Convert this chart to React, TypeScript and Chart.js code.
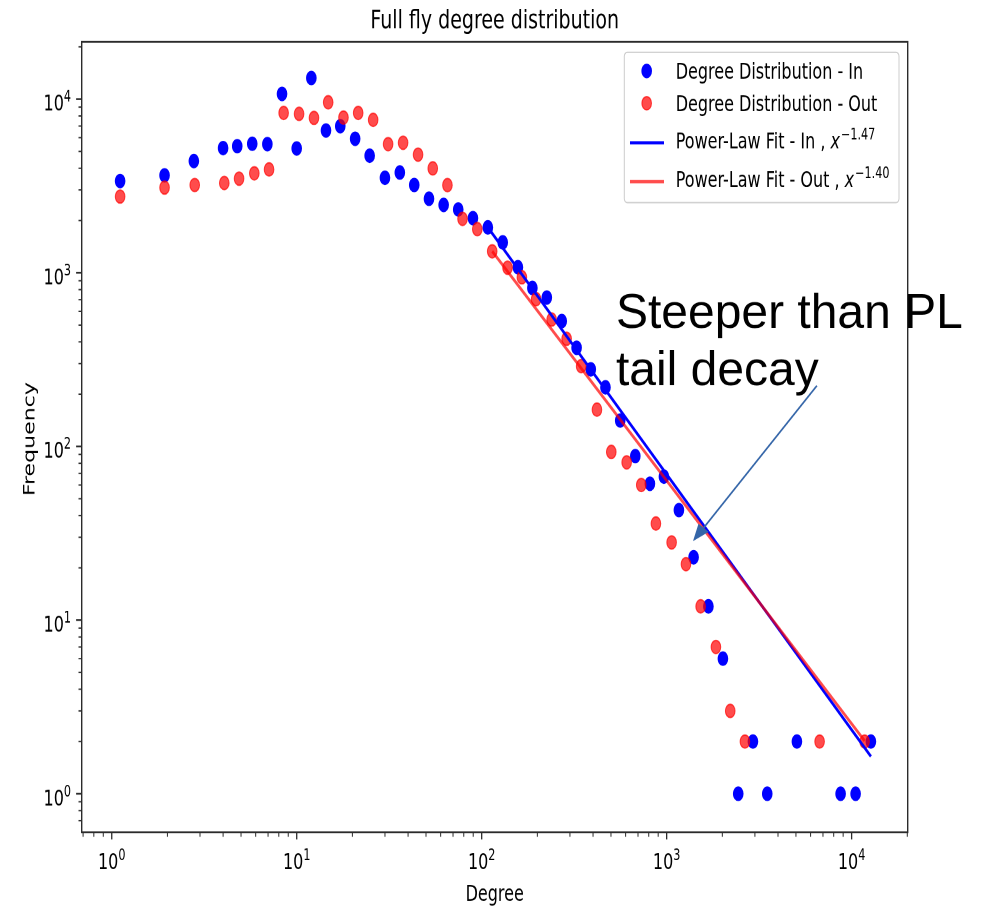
import React, { useEffect, useRef } from "react";
import { Chart, registerables } from "chart.js";

Chart.register(...registerables);

// ---------- data ----------
const TITLE = "Full fly degree distribution";
const X_LABEL = "Degree";
const Y_LABEL = "Frequency";

const degreeIn = [
  1.11, 1.93, 2.78, 4.0, 4.77, 5.75, 6.94, 8.33, 10.0, 12.0, 14.4, 17.2, 20.7, 24.8, 30.0,
  36.1, 43.2, 51.9, 62.3, 74.7, 89.7, 108, 130, 157, 188, 225, 271, 326, 389, 467, 561,
  677, 812, 967, 1165, 1399, 1682, 2015, 2438, 2928, 3499, 5062, 8721, 10510, 12716,
];
const freqIn = [
  3375, 3640, 4397, 5223, 5358, 5534, 5504, 10715, 5200, 13230, 6596, 6982, 5910, 4723, 3523,
  3778, 3203, 2669, 2459, 2314, 2063, 1826, 1496, 1076, 818, 720, 527, 370, 278, 219, 141,
  88, 61, 67, 43, 23, 12, 6, 1, 2, 1, 2, 1, 1, 2,
];

const degreeOut = [
  1.11, 1.93, 2.81, 4.06, 4.88, 5.9, 7.09, 8.5, 10.3, 12.4, 14.8, 17.9, 21.5, 25.9, 31.2,
  37.6, 45.3, 54.4, 65.3, 78.8, 94.7, 114, 138, 165, 197, 239, 288, 345, 420, 502, 608,
  729, 875, 1064, 1272, 1527, 1847, 2207, 2650, 6714, 11757,
];
const freqOut = [
  2748, 3094, 3203, 3288, 3484, 3738, 3939, 8332, 8226, 7800, 9585, 7831, 8332, 7597, 5504,
  5607, 4786, 3993, 3198, 2044, 1784, 1330, 1070, 942, 705, 538, 417, 290, 163, 93, 81,
  60, 36, 28, 21, 12, 7, 3, 2, 2, 2,
];

// power-law fit segments (end points)
const fitInDegree = [108, 12716];
const fitInFreq = [1826, 1.64];
const fitOutDegree = [114, 11757];
const fitOutFreq = [1330, 2.02];
const fitInExponent = "\u22121.47";
const fitOutExponent = "\u22121.40";

const legendLabels = [
  "Degree Distribution - In",
  "Degree Distribution - Out",
  "Power-Law Fit - In , ",
  "Power-Law Fit - Out , ",
];

const tickMultipliers = [1, 2, 3, 4, 5, 6, 7, 8, 9];

const X_MIN = 0.688;
const X_MAX = 20100;
const Y_MIN = 0.625;
const Y_MAX = 21410;

const annotationLines = ["Steeper than PL", "tail decay"];
const annotationAnchor = { x: 532, y: 480 };
const arrowFrom = { x: 6490, y: 224 };
const arrowTo = { x: 1388, y: 28.5 };

// ---------- styling ----------
const W = 983;
const H_FINAL = 907;
const H = 657;
const K = H_FINAL / H; // vertical stretch of the reference picture
const FONT = '"DejaVu Sans", "Noto Sans", sans-serif';
const BLUE = "#0000ff";
const RED = "rgba(255,0,0,0.7)";
const AXIS = "#2b2b2b";

function buildTicks(min: number, max: number) {
  const out: { v: number; major: boolean; e: number }[] = [];
  const e0 = Math.floor(Math.log10(min));
  const e1 = Math.ceil(Math.log10(max));
  for (let e = e0; e <= e1; e++) {
    for (const m of tickMultipliers) {
      const v = m * Math.pow(10, e);
      if (v >= min * 0.9999 && v <= max * 1.0001) out.push({ v, major: m === 1, e });
    }
  }
  return out;
}

function drawPower(ctx: CanvasRenderingContext2D, exp: number, x: number, baseline: number, align: "center" | "right") {
  const base = "10";
  const sup = String(exp);
  ctx.font = `16px ${FONT}`;
  const wb = ctx.measureText(base).width;
  ctx.font = `11.2px ${FONT}`;
  const ws = ctx.measureText(sup).width;
  const total = wb + ws;
  const left = align === "center" ? x - total / 2 : x - total;
  ctx.textAlign = "left";
  ctx.textBaseline = "alphabetic";
  ctx.font = `16px ${FONT}`;
  ctx.fillText(base, left, baseline);
  ctx.font = `11.2px ${FONT}`;
  ctx.fillText(sup, left + wb, baseline - 6.5);
}

function roundRectPath(ctx: CanvasRenderingContext2D, x: number, y: number, w: number, h: number, r: number) {
  ctx.beginPath();
  ctx.moveTo(x + r, y);
  ctx.lineTo(x + w - r, y);
  ctx.arcTo(x + w, y, x + w, y + r, r);
  ctx.lineTo(x + w, y + h - r);
  ctx.arcTo(x + w, y + h, x + w - r, y + h, r);
  ctx.lineTo(x + r, y + h);
  ctx.arcTo(x, y + h, x, y + h - r, r);
  ctx.lineTo(x, y + r);
  ctx.arcTo(x, y, x + r, y, r);
  ctx.closePath();
}

const decorPlugin = {
  id: "decor",
  afterDraw(chart: any) {
    const ctx: CanvasRenderingContext2D = chart.ctx;
    const ca = chart.chartArea;
    const xs = chart.scales.x;
    const ys = chart.scales.y;
    ctx.save();

    // frame
    ctx.strokeStyle = AXIS;
    ctx.lineWidth = 1.4;
    ctx.strokeRect(ca.left, ca.top, ca.right - ca.left, ca.bottom - ca.top);

    // ticks
    ctx.fillStyle = "#000";
    for (const t of buildTicks(X_MIN, X_MAX)) {
      const px = xs.getPixelForValue(t.v);
      ctx.lineWidth = t.major ? 1.3 : 1;
      ctx.beginPath();
      ctx.moveTo(px, ca.bottom);
      ctx.lineTo(px, ca.bottom + (t.major ? 5.2 : 3.2));
      ctx.stroke();
      if (t.major) drawPower(ctx, t.e, px, ca.bottom + 26.8, "center");
    }
    for (const t of buildTicks(Y_MIN, Y_MAX)) {
      const py = ys.getPixelForValue(t.v);
      ctx.lineWidth = t.major ? 1.3 : 1;
      ctx.beginPath();
      ctx.moveTo(ca.left, py);
      ctx.lineTo(ca.left - (t.major ? 5.6 : 3.2), py);
      ctx.stroke();
      if (t.major) drawPower(ctx, t.e, ca.left - 10.7, py + 8.3, "right");
    }

    // axis labels and title
    const cx = (ca.left + ca.right) / 2;
    const cy = (ca.top + ca.bottom) / 2;
    ctx.fillStyle = "#000";
    ctx.textAlign = "center";
    ctx.textBaseline = "alphabetic";
    ctx.font = `16px ${FONT}`;
    ctx.fillText(X_LABEL, cx, ca.bottom + 49.5);
    ctx.save();
    ctx.translate(ca.left - 47.4, cy + 1.5);
    ctx.rotate(-Math.PI / 2);
    ctx.fillText(Y_LABEL, 0, 0);
    ctx.restore();
    ctx.font = `19px ${FONT}`;
    ctx.fillText(TITLE, cx, ca.top - 9.7);

    // legend
    const lw = 274.7;
    const lh = 108.9;
    const lx = ca.right - 8.7 - lw;
    const ly = ca.top + 7.7;
    roundRectPath(ctx, lx, ly, lw, lh, 3);
    ctx.fillStyle = "rgba(255,255,255,0.8)";
    ctx.fill();
    ctx.strokeStyle = "#cccccc";
    ctx.lineWidth = 1;
    ctx.stroke();

    const rowCenters = [13.5, 36.9, 65.5, 93.7];
    const rowBaselines = [19.3, 42.6, 69.5, 97.8];
    const textX = lx + 51.4;
    // markers
    const markerColors = [BLUE, RED];
    for (let i = 0; i < 2; i++) {
      ctx.beginPath();
      ctx.arc(lx + 22.4, ly + rowCenters[i], 4.8, 0, Math.PI * 2);
      ctx.fillStyle = markerColors[i];
      ctx.strokeStyle = markerColors[i];
      ctx.lineWidth = 1;
      ctx.fill();
      ctx.stroke();
    }
    // lines
    const lineColors = [BLUE, RED];
    for (let i = 0; i < 2; i++) {
      ctx.beginPath();
      ctx.moveTo(lx + 5.7, ly + rowCenters[i + 2]);
      ctx.lineTo(lx + 39.7, ly + rowCenters[i + 2]);
      ctx.strokeStyle = lineColors[i];
      ctx.lineWidth = 2.4;
      ctx.stroke();
    }
    ctx.fillStyle = "#000";
    ctx.textAlign = "left";
    ctx.font = `16px ${FONT}`;
    ctx.fillText(legendLabels[0], textX, ly + rowBaselines[0]);
    ctx.fillText(legendLabels[1], textX, ly + rowBaselines[1]);
    const exps = [fitInExponent, fitOutExponent];
    for (let i = 0; i < 2; i++) {
      const by = ly + rowBaselines[i + 2];
      ctx.font = `16px ${FONT}`;
      const label = legendLabels[i + 2];
      ctx.fillText(label, textX, by);
      const w1 = ctx.measureText(label).width;
      ctx.font = `italic 16px ${FONT}`;
      ctx.fillText("x", textX + w1, by);
      const w2 = ctx.measureText("x").width;
      ctx.font = `11.2px ${FONT}`;
      ctx.fillText(exps[i], textX + w1 + w2 + 1, by - 6.5);
    }

    // annotation (drawn un-stretched, in final pixel space)
    ctx.save();
    ctx.scale(1, 1 / K);
    const ax = xs.getPixelForValue(annotationAnchor.x);
    const ay = ys.getPixelForValue(annotationAnchor.y) * K;
    ctx.fillStyle = "#000";
    ctx.font = '48px "Liberation Sans", Arial, sans-serif';
    ctx.textAlign = "left";
    ctx.textBaseline = "alphabetic";
    annotationLines.forEach((line, i) => ctx.fillText(line, ax, ay + i * 57));

    const x1 = xs.getPixelForValue(arrowFrom.x);
    const y1 = ys.getPixelForValue(arrowFrom.y) * K;
    const x2 = xs.getPixelForValue(arrowTo.x);
    const y2 = ys.getPixelForValue(arrowTo.y) * K;
    const ang = Math.atan2(y2 - y1, x2 - x1);
    const headLen = 17;
    const headHalf = 6.5;
    const bx = x2 - headLen * Math.cos(ang);
    const by = y2 - headLen * Math.sin(ang);
    ctx.strokeStyle = "#3465a8";
    ctx.fillStyle = "#3465a8";
    ctx.lineWidth = 1.7;
    ctx.beginPath();
    ctx.moveTo(x1, y1);
    ctx.lineTo(bx, by);
    ctx.stroke();
    ctx.beginPath();
    ctx.moveTo(x2, y2);
    ctx.lineTo(bx + headHalf * Math.sin(ang), by - headHalf * Math.cos(ang));
    ctx.lineTo(bx - headHalf * Math.sin(ang), by + headHalf * Math.cos(ang));
    ctx.closePath();
    ctx.fill();
    ctx.restore();

    ctx.restore();
  },
};

function toPoints(xs: number[], ys: number[]) {
  return xs.map((x, i) => ({ x, y: ys[i] }));
}

export default function App() {
  const canvasRef = useRef<HTMLCanvasElement | null>(null);

  useEffect(() => {
    const canvas = canvasRef.current;
    if (!canvas) return;
    const chart = new Chart(canvas, {
      type: "scatter",
      data: {
        datasets: [
          {
            label: legendLabels[0],
            data: toPoints(degreeIn, freqIn),
            backgroundColor: BLUE,
            borderColor: BLUE,
            borderWidth: 1,
            pointRadius: 4.8,
            showLine: false,
            order: 3,
          },
          {
            label: legendLabels[1],
            data: toPoints(degreeOut, freqOut),
            backgroundColor: RED,
            borderColor: RED,
            borderWidth: 1,
            pointRadius: 4.8,
            showLine: false,
            order: 2,
          },
          {
            label: legendLabels[2],
            data: toPoints(fitInDegree, fitInFreq),
            borderColor: BLUE,
            backgroundColor: BLUE,
            borderWidth: 2.4,
            pointRadius: 0,
            showLine: true,
            order: 1,
          },
          {
            label: legendLabels[3],
            data: toPoints(fitOutDegree, fitOutFreq),
            borderColor: RED,
            backgroundColor: RED,
            borderWidth: 2.4,
            pointRadius: 0,
            showLine: true,
            order: 0,
          },
        ],
      },
      options: {
        animation: false,
        responsive: false,
        devicePixelRatio: 2,
        layout: {
          padding: { left: 81.7, right: W - 907.7, top: 41.7 / K, bottom: H - 832.3 / K },
        },
        scales: {
          x: { type: "logarithmic", min: X_MIN, max: X_MAX, display: false },
          y: { type: "logarithmic", min: Y_MIN, max: Y_MAX, display: false },
        },
        plugins: {
          legend: { display: false },
          title: { display: false },
          tooltip: { enabled: false },
        },
        events: [],
      },
      plugins: [decorPlugin],
    } as any);
    return () => chart.destroy();
  }, []);

  return (
    <div
      style={{
        position: "fixed",
        left: 0,
        top: 0,
        width: W,
        height: H_FINAL,
        overflow: "hidden",
        background: "#fff",
      }}
    >
      <div style={{ width: W, height: H, transform: `scaleY(${K})`, transformOrigin: "0 0" }}>
        <canvas ref={canvasRef} width={W} height={H} style={{ display: "block", width: W, height: H }} />
      </div>
    </div>
  );
}
